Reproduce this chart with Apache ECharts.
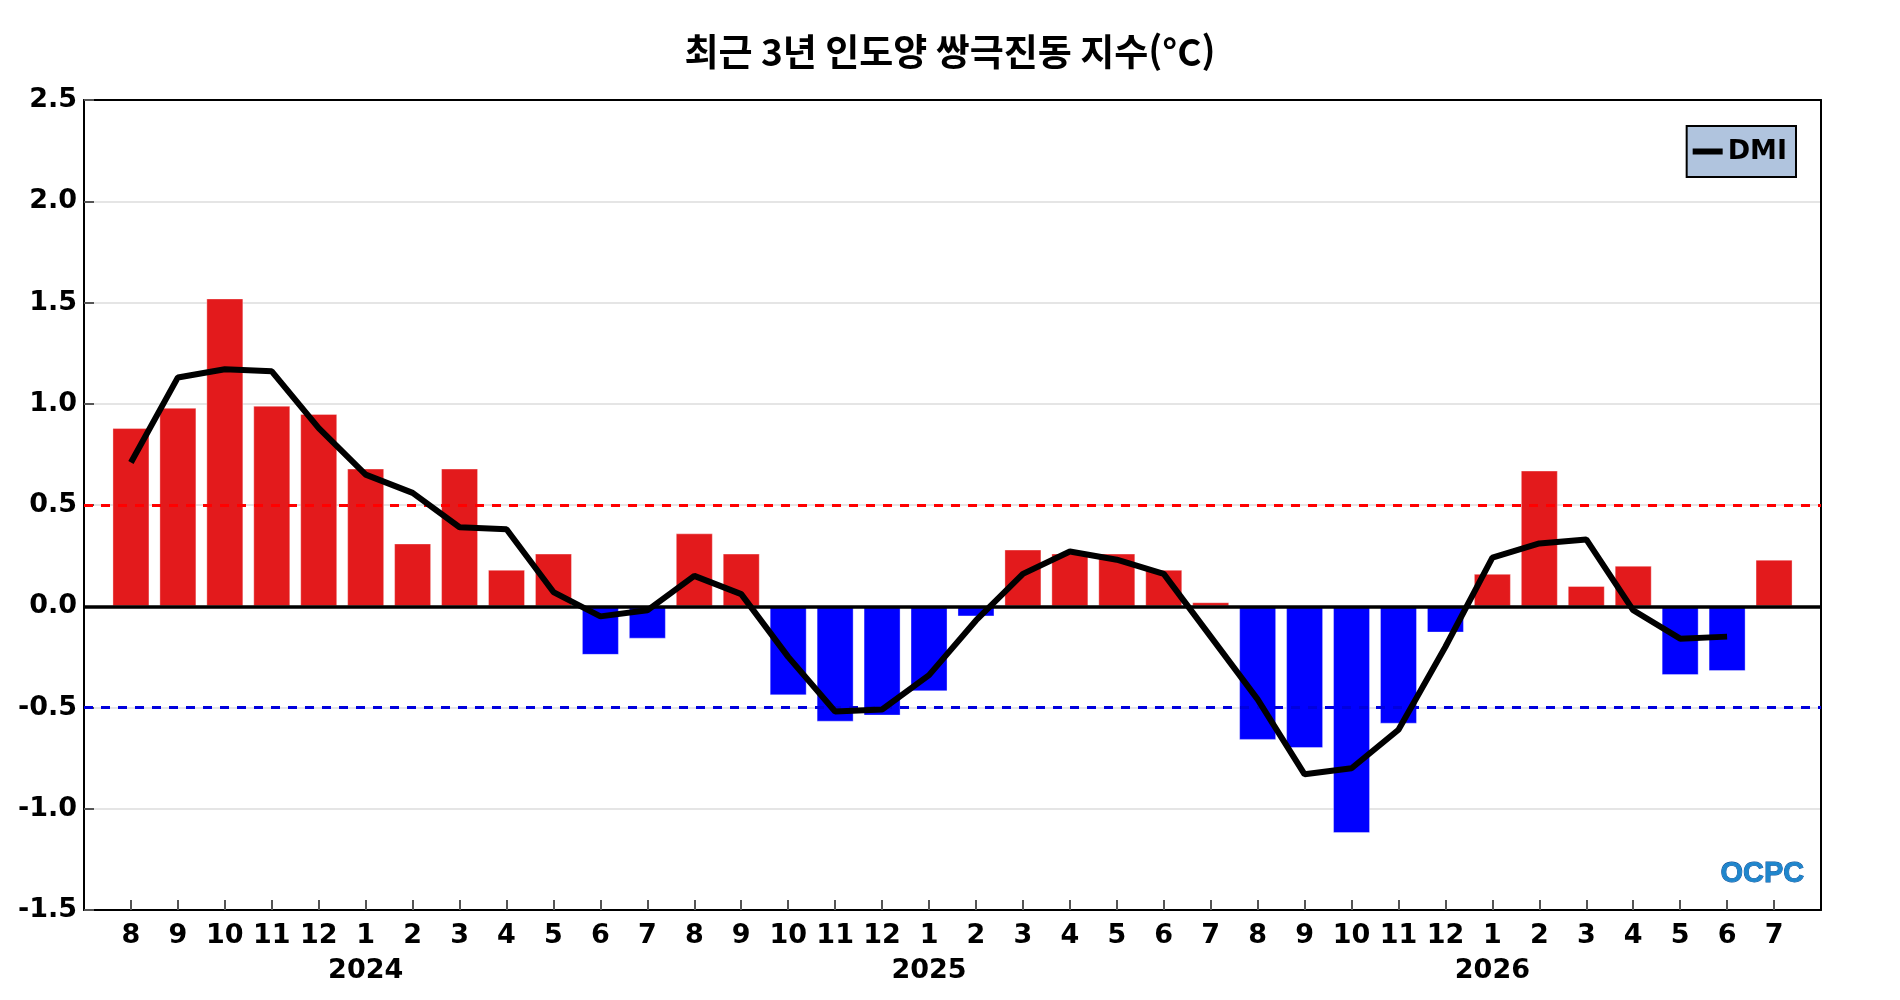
<!DOCTYPE html>
<html lang="ko">
<head>
    <meta charset="UTF-8">
    <title>최근 3년 인도양 쌍극진동 지수</title>
    <script src="https://cdn.jsdelivr.net/npm/echarts@6/dist/echarts.min.js"></script>
    <style>
        html, body { margin: 0; padding: 0; background: #fff; }
        #chart_dmi { width: 1900px; height: 1000px; }
    </style>
</head>
<body>
<div id="chart_dmi"></div>
<script>
    // 2023.8 ~ 2026.7
    var months = [8, 9, 10, 11, 12, 1, 2, 3, 4, 5, 6, 7,
                  8, 9, 10, 11, 12, 1, 2, 3, 4, 5, 6, 7,
                  8, 9, 10, 11, 12, 1, 2, 3, 4, 5, 6, 7];
    var yearLabels = {5: '2024', 17: '2025', 29: '2026'};

    // 월별 지수 (막대)
    var monthly = [0.88, 0.98, 1.52, 0.99, 0.95, 0.68, 0.31, 0.68, 0.18, 0.26, -0.24, -0.16,
                   0.36, 0.26, -0.44, -0.57, -0.54, -0.42, -0.05, 0.28, 0.26, 0.26, 0.18, 0.02,
                   -0.66, -0.70, -1.12, -0.58, -0.13, 0.16, 0.67, 0.10, 0.20, -0.34, -0.32, 0.23];

    // DMI (선)
    var dmi = [0.71, 1.13, 1.17, 1.16, 0.88, 0.65, 0.56, 0.39, 0.38, 0.07, -0.05, -0.02,
               0.15, 0.06, -0.25, -0.52, -0.51, -0.34, -0.07, 0.16, 0.27, 0.23, 0.16, -0.15,
               -0.46, -0.83, -0.80, -0.61, -0.20, 0.24, 0.31, 0.33, -0.02, -0.16, -0.15, null];

    var yTicks = [-1.5, -1.0, -0.5, 0.0, 0.5, 1.0, 1.5, 2.0, 2.5];

    var barData = [];
    var lineData = [];
    for (var i = 0; i < months.length; i++) {
        barData.push([i, monthly[i]]);
        if (dmi[i] !== null) lineData.push([i, dmi[i]]);
    }

    var labelFont = 'DejaVu Sans';
    var frameLine = { onZero: false, lineStyle: { color: '#000', width: 2 } };
    var innerTick = { inside: true, length: 10, lineStyle: { color: '#555', width: 2 } };

    var option = {
        backgroundColor: '#fff',
        animation: false,
        title: {
            text: '최근 3년 인도양 쌍극진동 지수(°C)',
            left: 'center',
            top: 28,
            textStyle: {
                fontFamily: 'Noto Sans CJK KR',
                fontWeight: 'bold',
                fontSize: 37,
                color: '#000'
            }
        },
        legend: {
            data: ['DMI'],
            right: 104,
            top: 126,
            backgroundColor: '#b0c4de',
            borderColor: '#000',
            borderWidth: 2,
            padding: [12, 9, 12, 6],
            icon: 'rect',
            itemWidth: 30,
            itemHeight: 6,
            textStyle: {
                fontFamily: labelFont,
                fontWeight: 'bold',
                fontSize: 27,
                color: '#000'
            }
        },
        grid: {
            left: 84,
            right: 79,
            top: 100,
            bottom: 90,
            containLabel: false,
            outerBoundsMode: 'none'
        },
        xAxis: [{
            type: 'value',
            min: -1,
            max: 36,
            interval: 1,
            axisLine: frameLine,
            splitLine: { show: false },
            axisTick: innerTick,
            axisLabel: {
                margin: 8,
                fontFamily: labelFont,
                fontWeight: 'bold',
                fontSize: 27,
                lineHeight: 35,
                color: '#000',
                showMinLabel: false,
                showMaxLabel: false,
                formatter: function (v) {
                    if (v < 0 || v >= months.length) return '';
                    var s = String(months[v]);
                    if (yearLabels[v]) s += '\n' + yearLabels[v];
                    return s;
                }
            }
        }, {
            type: 'value',
            position: 'top',
            min: -1,
            max: 36,
            axisLine: frameLine,
            axisTick: { show: false },
            axisLabel: { show: false },
            splitLine: { show: false }
        }],
        yAxis: [{
            type: 'value',
            min: yTicks[0],
            max: yTicks[yTicks.length - 1],
            interval: 0.5,
            axisLine: frameLine,
            axisTick: innerTick,
            splitLine: {
                show: true,
                showMinLine: false,
                showMaxLine: false,
                lineStyle: { color: '#dcdcdc', width: 1.5 }
            },
            axisLabel: {
                margin: 7,
                fontFamily: labelFont,
                fontWeight: 'bold',
                fontSize: 27,
                color: '#000',
                formatter: function (v) { return v.toFixed(1); }
            }
        }, {
            type: 'value',
            position: 'right',
            min: yTicks[0],
            max: yTicks[yTicks.length - 1],
            axisLine: frameLine,
            axisTick: { show: false },
            axisLabel: { show: false },
            splitLine: { show: false }
        }],
        graphic: [{
            type: 'text',
            left: 1720,
            top: 859,
            z: 10,
            style: {
                text: 'OCPC',
                font: 'bold 29px "Liberation Sans"',
                fill: '#1f86cc',
                stroke: '#0d4f9a',
                lineWidth: 0.8
            }
        }],
        series: [
            {
                name: '월별',
                type: 'bar',
                barWidth: 37,
                data: barData,
                z: 2,
                itemStyle: {
                    color: function (p) { return p.value[1] >= 0 ? '#e31a1c' : '#0000ff'; },
                    borderColor: 'rgba(255,255,255,0.35)',
                    borderWidth: 1
                },
                markLine: {
                    silent: true,
                    symbol: 'none',
                    label: { show: false },
                    data: [
                        { yAxis: 0.5, lineStyle: { color: '#ff0000', type: [9, 8], width: 3 } },
                        { yAxis: -0.5, lineStyle: { color: '#0000dd', type: [9, 8], width: 3 } },
                        { yAxis: 0, lineStyle: { color: '#000', type: 'solid', width: 3.5 } }
                    ]
                }
            },
            {
                name: 'DMI',
                type: 'line',
                data: lineData,
                z: 5,
                showSymbol: false,
                symbol: 'none',
                color: '#000',
                lineStyle: { color: '#000', width: 6 }
            }
        ]
    };

    var chart_dmi = echarts.init(document.getElementById('chart_dmi'));
    chart_dmi.setOption(option);
</script>
</body>
</html>
